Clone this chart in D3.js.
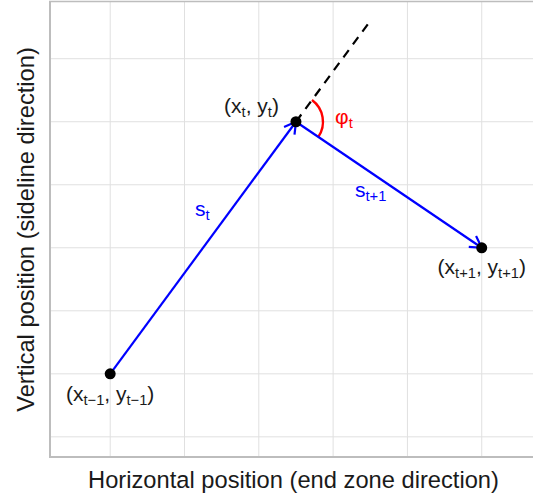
<!DOCTYPE html>
<html>
<head>
<meta charset="utf-8">
<script src="https://cdn.jsdelivr.net/npm/d3@7"></script>
<style>
  html, body { margin: 0; padding: 0; background: #fff; }
  svg text { font-family: "Liberation Sans", Arial, Helvetica, sans-serif; }
</style>
</head>
<body>
<svg id="chart" width="533" height="497"></svg>
<script>
// Three consecutive positions of a player: t-1, t, t+1
const stepNames = ["t\u22121", "t", "t+1"];
const posX = [1, 3.5, 6];
const posY = [1, 5, 3];

// Step labels (s_t, s_{t+1}) and the turning angle label
const stepLabels = ["t", "t+1"];
const angleLabel = "t";

// Gridline positions
const xTicks = [1, 2, 3, 4, 5, 6];
const yTicks = [0, 1, 2, 3, 4, 5, 6];

// How far the heading of s_t is extended past (x_t, y_t)
const extension = 0.4;

const svg = d3.select("#chart");
const panel = { left: 50, right: 533, top: 2, bottom: 457 };

const x = d3.scaleLinear().domain([0.19, 6.69]).range([panel.left, panel.right]);
const y = d3.scaleLinear().domain([-0.32, 6.9]).range([panel.bottom, panel.top]);

// Grid
const grid = svg.append("g");
grid.selectAll("line.vx").data(xTicks).join("line")
  .attr("x1", d => x(d)).attr("x2", d => x(d))
  .attr("y1", panel.top).attr("y2", panel.bottom)
  .attr("stroke", "#e0e0e0").attr("stroke-width", 1);
grid.selectAll("line.hy").data(yTicks).join("line")
  .attr("y1", d => y(d)).attr("y2", d => y(d))
  .attr("x1", panel.left).attr("x2", panel.right)
  .attr("stroke", "#e0e0e0").attr("stroke-width", 1);

// Axis lines
const axisCol = "#bdbdbd";
svg.append("line").attr("x1", panel.left).attr("x2", panel.left)
  .attr("y1", panel.top - 1).attr("y2", panel.bottom + 1)
  .attr("stroke", axisCol).attr("stroke-width", 2);
svg.append("line").attr("x1", panel.left - 1).attr("x2", panel.right)
  .attr("y1", panel.bottom).attr("y2", panel.bottom)
  .attr("stroke", axisCol).attr("stroke-width", 2);
svg.append("line").attr("x1", panel.left - 1).attr("x2", panel.right)
  .attr("y1", panel.top - 0.5).attr("y2", panel.top - 0.5)
  .attr("stroke", axisCol).attr("stroke-width", 1.5);

// Axis titles
svg.append("text")
  .attr("x", (panel.left + panel.right) / 2 + 2).attr("y", 488)
  .attr("text-anchor", "middle").attr("font-size", 23.7).attr("fill", "#1a1a1a")
  .text("Horizontal position (end zone direction)");
svg.append("text")
  .attr("transform", `translate(34,${(panel.top + panel.bottom) / 2}) rotate(-90)`)
  .attr("text-anchor", "middle").attr("font-size", 23.7).attr("fill", "#1a1a1a")
  .text("Vertical position (sideline direction)");

const px = posX.map(v => x(v));
const py = posY.map(v => y(v));

// Dashed extension of the previous heading
const ex = posX[1] + extension * (posX[1] - posX[0]);
const ey = posY[1] + extension * (posY[1] - posY[0]);
svg.append("line")
  .attr("x1", px[1]).attr("y1", py[1]).attr("x2", x(ex)).attr("y2", y(ey))
  .attr("stroke", "#000").attr("stroke-width", 2.2).attr("stroke-dasharray", "9,7");

// Turning angle arc, from the extended heading to the next step
const a0 = Math.atan2(y(ey) - py[1], x(ex) - px[1]);
const a1 = Math.atan2(py[2] - py[1], px[2] - px[1]);
const r = 27;
const arcPath = d3.path();
arcPath.moveTo(px[1] + r * Math.cos(a0), py[1] + r * Math.sin(a0));
arcPath.arc(px[1], py[1], r, a0, a1, false);
svg.append("path").attr("d", arcPath.toString())
  .attr("fill", "none").attr("stroke", "#ff0000").attr("stroke-width", 2.4);

// Step arrows
const blue = "#0000ff";
function arrow(i0, i1) {
  svg.append("line")
    .attr("x1", px[i0]).attr("y1", py[i0]).attr("x2", px[i1]).attr("y2", py[i1])
    .attr("stroke", blue).attr("stroke-width", 2.2);
  const ang = Math.atan2(py[i1] - py[i0], px[i1] - px[i0]);
  const len = 13, spread = Math.PI / 6;
  const head = d3.path();
  head.moveTo(px[i1] - len * Math.cos(ang - spread), py[i1] - len * Math.sin(ang - spread));
  head.lineTo(px[i1], py[i1]);
  head.lineTo(px[i1] - len * Math.cos(ang + spread), py[i1] - len * Math.sin(ang + spread));
  svg.append("path").attr("d", head.toString())
    .attr("fill", "none").attr("stroke", blue).attr("stroke-width", 2.2);
}
arrow(0, 1);
arrow(1, 2);

// Points
svg.selectAll("circle.pt").data(posX).join("circle")
  .attr("cx", (d, i) => px[i]).attr("cy", (d, i) => py[i]).attr("r", 5.5)
  .attr("fill", "#000");

// Text with a subscript
function subText(tx, ty, anchor, color, size, parts) {
  const t = svg.append("text").attr("x", tx).attr("y", ty)
    .attr("text-anchor", anchor).attr("fill", color).attr("font-size", size);
  let shifted = false;
  parts.forEach(([s, sub]) => {
    const sp = t.append("tspan").text(s);
    if (sub && !shifted) { sp.attr("dy", 4).attr("font-size", size * 0.7); shifted = true; }
    else if (sub) { sp.attr("font-size", size * 0.7); }
    else if (!sub && shifted) { sp.attr("dy", -4); shifted = false; }
  });
  return t;
}

function coordParts(name) {
  return [["(x", false], [name, true], [", y", false], [name, true], [")", false]];
}

// Position labels
subText(px[0], py[0] + 27, "middle", "#1a1a1a", 21, coordParts(stepNames[0]));
subText(px[1] - 17, py[1] - 9, "end", "#1a1a1a", 21, coordParts(stepNames[1]));
subText(px[2], py[2] + 26, "middle", "#1a1a1a", 21, coordParts(stepNames[2]));

// Step labels
subText(195, 216, "start", blue, 21, [["s", false], [stepLabels[0], true]]);
subText(355, 197, "start", blue, 21, [["s", false], [stepLabels[1], true]]);

// Angle label
subText(335, 123.5, "start", "#ff0000", 21, [["\u03c6", false], [angleLabel, true]]);
</script>
</body>
</html>
